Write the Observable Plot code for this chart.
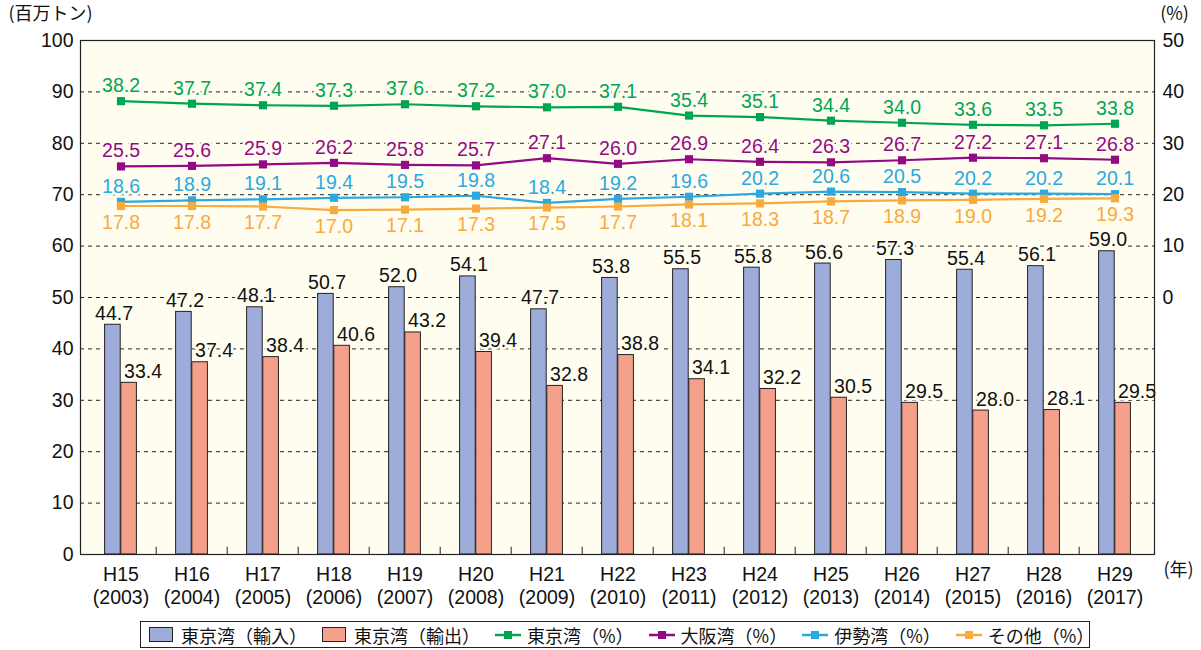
<!DOCTYPE html>
<html>
<head>
<meta charset="utf-8">
<script src="https://cdn.jsdelivr.net/npm/d3@7"></script>
<script src="https://cdn.jsdelivr.net/npm/@observablehq/plot@0.6"></script>
<style>
  body { margin: 0; background: #fff; }
  #wrap { position: relative; width: 1201px; height: 650px; }
  #legend {
    position: absolute; left: 140px; top: 621px; width: 950px; height: 27px;
    border: 1px solid #222; box-sizing: border-box; display: flex; align-items: center;
    padding-left: 8px; font-family: "Noto Sans CJK JP", sans-serif; font-size: 18px; color: #111;
  }
  .item { display: flex; align-items: center; margin-right: 15px; white-space: nowrap; }
  .sw { width: 22px; height: 13px; border: 1px solid #222; margin-right: 8px; }
  .ln { margin-right: 6px; }
</style>
</head>
<body>
<div id="wrap">
  <div id="chart"></div>
  <div id="legend"></div>
</div>
<script>
// ---- data ----
const eras = ["H15","H16","H17","H18","H19","H20","H21","H22","H23","H24","H25","H26","H27","H28","H29"];
const years = [2003,2004,2005,2006,2007,2008,2009,2010,2011,2012,2013,2014,2015,2016,2017];
const tokyoImport = [44.7,47.2,48.1,50.7,52.0,54.1,47.7,53.8,55.5,55.8,56.6,57.3,55.4,56.1,59.0];
const tokyoExport = [33.4,37.4,38.4,40.6,43.2,39.4,32.8,38.8,34.1,32.2,30.5,29.5,28.0,28.1,29.5];
const tokyoPct = [38.2,37.7,37.4,37.3,37.6,37.2,37.0,37.1,35.4,35.1,34.4,34.0,33.6,33.5,33.8];
const osakaPct = [25.5,25.6,25.9,26.2,25.8,25.7,27.1,26.0,26.9,26.4,26.3,26.7,27.2,27.1,26.8];
const isePct   = [18.6,18.9,19.1,19.4,19.5,19.8,18.4,19.2,19.6,20.2,20.6,20.5,20.2,20.2,20.1];
const otherPct = [17.8,17.8,17.7,17.0,17.1,17.3,17.5,17.7,18.1,18.3,18.7,18.9,19.0,19.2,19.3];
const leftTicks = [0,10,20,30,40,50,60,70,80,90,100];
const rightTicks = [0,10,20,30,40,50];
const barNames = ["東京湾（輸入）","東京湾（輸出）"];
const lineNames = ["東京湾（%）","大阪湾（%）","伊勢湾（%）","その他（%）"];

// ---- styles ----
const barColors = ["#9dacd9","#f5a08a"];
const lineColors = ["#00a551","#920a84","#2aa9e1","#f8aa3d"];
const bg = "#fffdf0";
const numFont = '"Liberation Sans", Arial, "Noto Sans CJK JP", sans-serif';
const cjkFont = '"Noto Sans CJK JP", sans-serif';
const fs = 19.5;

// ---- tables ----
const bars = eras.map((e, i) => ({era: e, imp: tokyoImport[i], exp: tokyoExport[i]}));
const pctSeries = [tokyoPct, osakaPct, isePct, otherPct];
const pctOffset = 50; // right axis 0% sits at left-axis 50
const lines = [];
pctSeries.forEach((vals, s) => vals.forEach((v, i) => lines.push({era: eras[i], series: lineNames[s], pct: v, yv: v + pctOffset, below: s === 3})));

const W = 1201, H = 615, ML = 80, MR = 47, MT = 40, MB = 61;
const bw = (W - ML - MR) / eras.length;
const barW = 16.2;
const halo = {stroke: bg, strokeWidth: 5, paintOrder: "stroke"};

const plot = Plot.plot({
  width: W, height: H,
  marginLeft: ML, marginRight: MR, marginTop: MT, marginBottom: MB,
  style: {fontFamily: numFont, fontSize: fs + "px", color: "#111", background: "#fff", overflow: "visible"},
  x: {type: "band", domain: eras, padding: 0, label: null},
  y: {domain: [0, 100], label: null},
  color: {domain: lineNames, range: lineColors},
  marks: [
    Plot.frame({fill: bg, stroke: null}),
    Plot.gridY(leftTicks.filter(d => d > 0 && d < 100), {stroke: "#222", strokeOpacity: 1, strokeDasharray: "4,4", strokeWidth: 1}),
    Plot.barY(bars, {x: "era", y: "imp", fill: barColors[0], stroke: "#222", strokeWidth: 1, insetLeft: bw / 2 - barW, insetRight: bw / 2}),
    Plot.barY(bars, {x: "era", y: "exp", fill: barColors[1], stroke: "#222", strokeWidth: 1, insetLeft: bw / 2, insetRight: bw / 2 - barW}),
    Plot.text(bars, {x: "era", y: "imp", text: d => d.imp.toFixed(1), dx: -7, dy: -5, lineAnchor: "bottom", fill: "#111", fontSize: fs, ...halo}),
    Plot.text(bars, {x: "era", y: "exp", text: d => d.exp.toFixed(1), dx: 22, dy: -5, lineAnchor: "bottom", fill: "#111", fontSize: fs, ...halo}),
    Plot.line(lines, {x: "era", y: "yv", z: "series", stroke: "series", strokeWidth: 2.2}),
    Plot.dot(lines, {x: "era", y: "yv", fill: "series", symbol: "square", r: 4.6, stroke: null}),
    Plot.text(lines.filter(d => !d.below), {x: "era", y: "yv", text: d => d.pct.toFixed(1), fill: "series", dy: -9, lineAnchor: "bottom", fontSize: fs, ...halo}),
    Plot.text(lines.filter(d => d.below), {x: "era", y: "yv", text: d => d.pct.toFixed(1), fill: "series", dy: 9, lineAnchor: "top", fontSize: fs, ...halo}),
    Plot.ruleX(eras.slice(1), {x: d => d, dx: -bw / 2, y1: 0, y2: 1.4, stroke: "#222", strokeWidth: 1}),
    Plot.frame({stroke: "#222", strokeWidth: 1.2}),
    Plot.axisY({ticks: leftTicks, tickSize: 0, tickPadding: 7, fontSize: fs, label: null}),
    Plot.axisY({anchor: "right", ticks: rightTicks.map(d => d + pctOffset), tickFormat: d => d - pctOffset, tickSize: 0, tickPadding: 8, fontSize: fs, label: null}),
    Plot.axisX({tickSize: 0, tickPadding: 11, fontSize: 19.5, lineHeight: 1.15, label: null,
      tickFormat: e => `${e}\n(${years[eras.indexOf(e)]})`}),
    Plot.text(["(百万トン)"], {frameAnchor: "top-left", dx: -72, dy: -33, textAnchor: "start", lineAnchor: "top", fontSize: 18, fontFamily: cjkFont, fill: "#111"}),
    Plot.text(["(%)"], {frameAnchor: "top-right", dx: 20, dy: -33, textAnchor: "middle", lineAnchor: "top", fontSize: 18, fontFamily: cjkFont, fill: "#111"}),
    Plot.text(["(年)"], {frameAnchor: "bottom-right", dx: 24, dy: 9, textAnchor: "middle", lineAnchor: "top", fontSize: 18, fontFamily: cjkFont, fill: "#111"})
  ]
});
document.getElementById("chart").appendChild(plot);

// ---- legend ----
const legend = document.getElementById("legend");
barNames.forEach((n, i) => {
  const it = document.createElement("div"); it.className = "item";
  it.innerHTML = `<div class="sw" style="background:${barColors[i]}"></div><span>${n}</span>`;
  legend.appendChild(it);
});
lineNames.forEach((n, i) => {
  const it = document.createElement("div"); it.className = "item";
  it.innerHTML = `<svg class="ln" width="26" height="12"><line x1="0" y1="6" x2="26" y2="6" stroke="${lineColors[i]}" stroke-width="2.5"/><rect x="9" y="2" width="8" height="8" fill="${lineColors[i]}"/></svg><span>${n}</span>`;
  legend.appendChild(it);
});
</script>
</body>
</html>
